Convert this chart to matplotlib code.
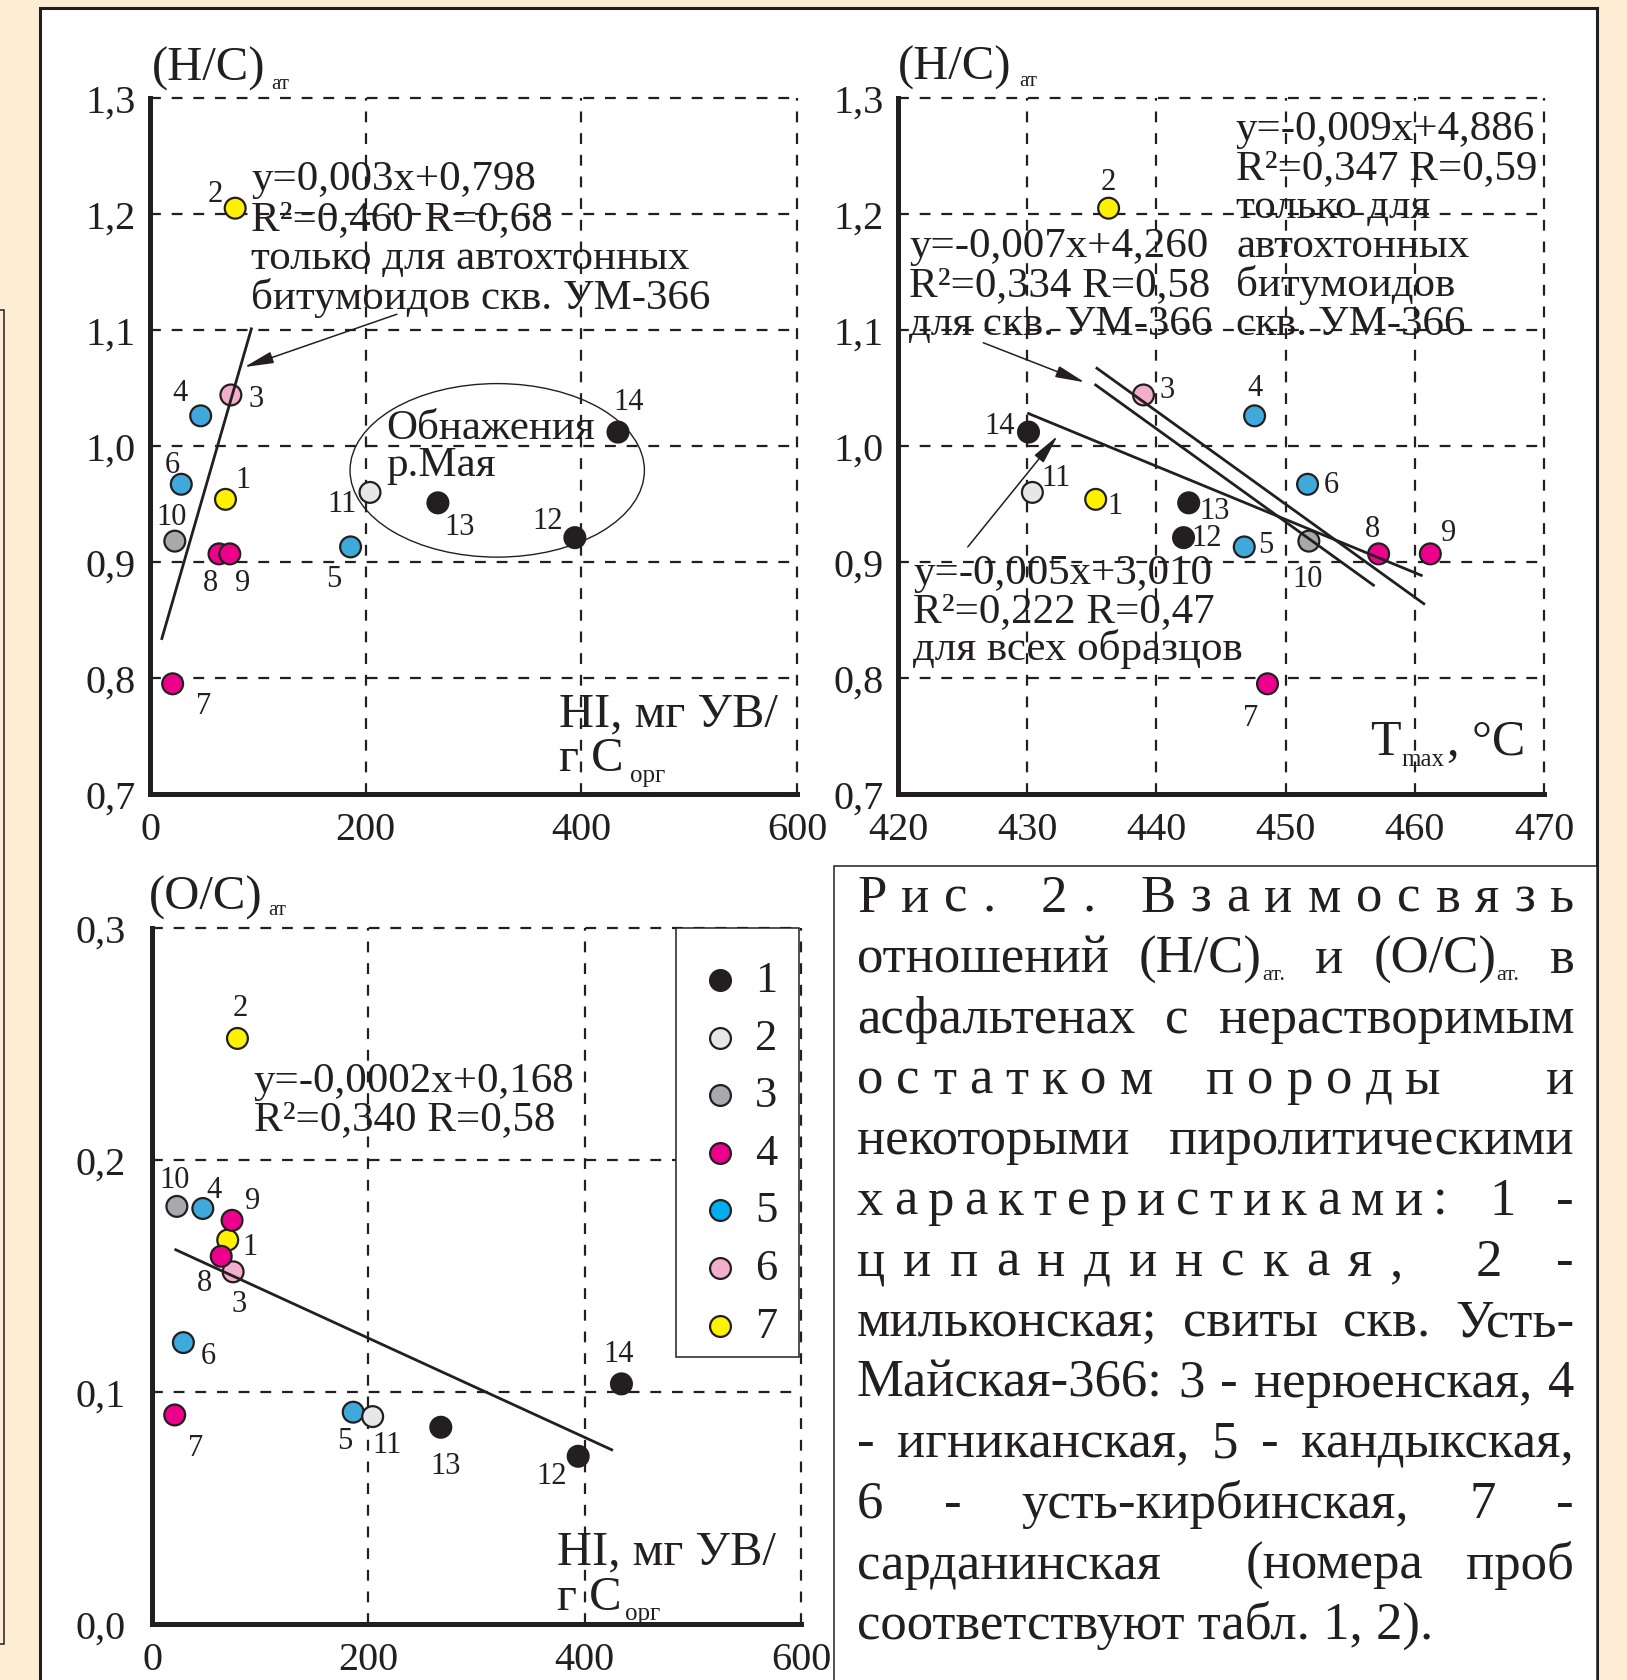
import matplotlib
matplotlib.use('Agg')
import matplotlib.pyplot as plt
from matplotlib.patches import Rectangle, Ellipse

W, H, DPI = 1627, 1681, 100
INK = '#231F20'
BEIGE = '#FEEDD5'
plt.rcParams['font.family'] = ['Liberation Serif', 'DejaVu Serif']
plt.rcParams['lines.scale_dashes'] = False
plt.rcParams['text.color'] = INK

# ---------------- data ----------------
samples = [1, 2, 3, 4, 5, 6, 7, 8, 9, 10, 11, 12, 13, 14]
suite_of_sample = [7, 7, 6, 5, 5, 5, 4, 4, 4, 3, 2, 1, 1, 1]
hi_values = [70, 79, 75, 47, 186, 29, 21, 64, 74, 23, 204, 394, 267, 434]
hc_values = [0.954, 1.205, 1.044, 1.026, 0.913, 0.967, 0.795, 0.907, 0.907,
             0.918, 0.960, 0.921, 0.951, 1.012]
tmax_values = [435.3, 436.3, 439.0, 447.6, 446.8, 451.7, 448.6, 457.2, 461.2,
               451.8, 430.4, 442.1, 442.5, 430.1]
oc_values = [0.1655, 0.2524, 0.1518, 0.1791, 0.0913, 0.1213, 0.0901, 0.1585,
             0.1740, 0.1800, 0.0894, 0.0723, 0.0848, 0.1035]

suite_ids = [1, 2, 3, 4, 5, 6, 7]
suite_colors = ['#231F20', '#E6E7E8', '#A7A9AC', '#EC008C', '#3FA9DC', '#F2AECB', '#FFF200']
legend_colors = ['#231F20', '#E6E7E8', '#A7A9AC', '#EC008C', '#00AEEF', '#F2AECB', '#FFF200']

# regression lines (end points)
fit_hc_hi_x = [11, 94]
fit_hc_hi_y = [0.834, 1.101]
fit_tmax_all_x = [430.1, 460.5]
fit_tmax_all_y = [1.028, 0.8885]
fit_tmax_um_x = [435.3, 456.8]
fit_tmax_um_y = [1.0526, 0.880]
fit_tmax_auto_x = [435.4, 460.7]
fit_tmax_auto_y = [1.067, 0.864]
fit_oc_hi_x = [22, 425]
fit_oc_hi_y = [0.1613, 0.0751]

hc_ticks = [0.7, 0.8, 0.9, 1.0, 1.1, 1.2, 1.3]
hc_tick_labels = ['0,7', '0,8', '0,9', '1,0', '1,1', '1,2', '1,3']
hi_ticks = [0, 200, 400, 600]
hi_tick_labels = ['0', '200', '400', '600']
tmax_ticks = [420, 430, 440, 450, 460, 470]
tmax_tick_labels = ['420', '430', '440', '450', '460', '470']
oc_ticks = [0.0, 0.1, 0.2, 0.3]
oc_tick_labels = ['0,0', '0,1', '0,2', '0,3']

# ---------------- text positions (layout) ----------------
lab1 = {1: (85.9, 0.971), 2: (60.7, 1.218), 3: (98.5, 1.0406), 4: (28.2, 1.0457),
        5: (170.4, 0.886), 6: (20.4, 0.984), 7: (50, 0.776), 8: (55.8, 0.8825),
        9: (85.9, 0.8825), 10: (20.4, 0.939), 11: (178, 0.950), 12: (369, 0.936),
        13: (287, 0.931), 14: (444, 1.038)}
lab2 = {1: (436.8, 0.949), 2: (436.3, 1.228), 3: (440.8, 1.049), 4: (447.6, 1.050),
        5: (448.45, 0.915), 6: (453.5, 0.967), 7: (447.3, 0.766), 8: (456.7, 0.929),
        9: (462.65, 0.9255), 10: (451.7, 0.886), 11: (432.2, 0.973), 12: (443.9, 0.921),
        13: (444.5, 0.944), 14: (427.9, 1.018)}
lab3 = {1: (90.2, 0.1629), 2: (81.3, 0.2658), 3: (80.8, 0.138), 4: (57, 0.1872),
        5: (178, 0.0793), 6: (52.1, 0.1156), 7: (40.7, 0.076), 8: (48.1, 0.1472),
        9: (93.2, 0.1826), 10: (20.8, 0.1918), 11: (217.7, 0.0774), 12: (369.4, 0.064),
        13: (271.7, 0.0682), 14: (431.4, 0.1167)}

fig = plt.figure(figsize=(W / DPI, H / DPI), dpi=DPI, facecolor=BEIGE)


def rect_px(x0, y0, x1, y1, **kw):
    r = Rectangle((x0 / W, 1 - y1 / H), (x1 - x0) / W, (y1 - y0) / H,
                  transform=fig.transFigure, **kw)
    fig.add_artist(r)
    return r


def ftext(x, y, s, size, **kw):
    kw.setdefault('va', 'baseline')
    kw.setdefault('ha', 'left')
    return fig.text(x / W, 1 - y / H, s, fontsize=size, color=INK, **kw)


def make_ax(l, t, r, b):
    ax = fig.add_axes([l / W, 1 - b / H, (r - l) / W, (b - t) / H])
    ax.set_facecolor('none')
    for s in ('top', 'right'):
        ax.spines[s].set_visible(False)
    for s in ('left', 'bottom'):
        ax.spines[s].set_linewidth(3.6)
        ax.spines[s].set_color(INK)
        ax.spines[s].set_capstyle('projecting')
    return ax


# panels
rect_px(40, 9, 1597, 1720, facecolor='white', edgecolor=INK, lw=2.2, zorder=-10)
rect_px(-30, 311, 4, 1645, facecolor='none', edgecolor=INK, lw=1.1, zorder=-9)
rect_px(834, 867, 1597, 1720, facecolor='white', edgecolor=INK, lw=1.1, zorder=-8)

DASH = (0, (7.8, 7.8))
GRID_KW = dict(color=INK, lw=1.6, ls=DASH, zorder=1, clip_on=False)
MARK_S = 15.0 ** 2
ANN = 31


def setup(ax, xlim, ylim, xt, xtl, yt, ytl, hgrid, vgrid, ypad):
    ax.set_xlim(*xlim)
    ax.set_ylim(*ylim)
    ax.set_xticks(xt)
    ax.set_xticklabels(xtl)
    ax.set_yticks(yt)
    ax.set_yticklabels(ytl)
    ax.tick_params(axis='both', length=0, labelsize=29, colors=INK)
    ax.tick_params(axis='x', pad=12)
    ax.tick_params(axis='y', pad=ypad)
    for y in hgrid:
        ax.axhline(y, **GRID_KW)
    for x in vgrid:
        ax.axvline(x, **GRID_KW)


def points(ax, xs, ys, labpos):
    cols = [suite_colors[suite_ids.index(s)] for s in suite_of_sample]
    ax.scatter(xs, ys, s=MARK_S, c=cols, edgecolors=INK, linewidths=1.6,
               zorder=4, clip_on=False)
    for n in samples:
        x, y = labpos[n]
        ax.text(x, y, str(n), fontsize=22, ha='center', va='center', color=INK, zorder=6)


ARROW = dict(arrowstyle='-|>,head_length=0.9,head_width=0.18', color=INK, lw=1.1,
             shrinkA=0, shrinkB=0, mutation_scale=20)

# ---------------- plot 1: HI vs H/C ----------------
ax1 = make_ax(150, 99, 797, 795)
setup(ax1, (0, 600), (0.7, 1.3), hi_ticks, hi_tick_labels, hc_ticks, hc_tick_labels,
      hc_ticks[1:], hi_ticks[1:], 10.5)
points(ax1, hi_values, hc_values, lab1)
ax1.plot(fit_hc_hi_x, fit_hc_hi_y, color=INK, lw=2.0, zorder=5)
ax1.annotate('', xy=(87.4, 1.068), xytext=(229, 1.1136), arrowprops=ARROW, zorder=5)
ax1.add_patch(Ellipse((322, 0.979), 273, 0.1496, fill=False, edgecolor=INK, lw=1.0, zorder=3))

for i, s in enumerate(['y=0,003x+0,798', 'R²=0,460 R=0,68',
                       'только для автохтонных', 'битумоидов скв. УМ-366']):
    ftext(251, 190 + 39.7 * i, s, ANN)
ftext(386, 439, 'Обнажения', ANN)
ftext(386, 476, 'р.Мая', ANN)
ftext(152, 81, '(H/C)', 35)
ftext(271, 89, 'ат', 15)
ftext(559, 726, 'HI, мг УВ/', 35)
ftext(559, 771, 'г С', 35)
ftext(630, 782, 'орг', 18)

# ---------------- plot 2: Tmax vs H/C ----------------
ax2 = make_ax(898, 99, 1544, 795)
setup(ax2, (420, 470), (0.7, 1.3), tmax_ticks, tmax_tick_labels, hc_ticks, hc_tick_labels,
      hc_ticks[1:], tmax_ticks[1:], 10.5)
points(ax2, tmax_values, hc_values, lab2)
ax2.plot(fit_tmax_all_x, fit_tmax_all_y, color=INK, lw=2.0, zorder=5)
ax2.plot(fit_tmax_um_x, fit_tmax_um_y, color=INK, lw=2.0, zorder=5)
ax2.plot(fit_tmax_auto_x, fit_tmax_auto_y, color=INK, lw=2.0, zorder=5)
ax2.annotate('', xy=(434.45, 1.0549), xytext=(426.6, 1.089), arrowprops=ARROW, zorder=5)
ax2.annotate('', xy=(432.35, 1.0087), xytext=(425.4, 0.913), arrowprops=ARROW, zorder=5)

for i, s in enumerate(['y=-0,009x+4,886', 'R²=0,347 R=0,59', 'только для',
                       'автохтонных', 'битумоидов', 'скв. УМ-366']):
    ftext(1236, 140 + 39 * i, s, ANN)
for i, s in enumerate(['y=-0,007x+4,260', 'R²=0,334 R=0,58', 'для скв. УМ-366']):
    ftext(909, 257 + 39 * i, s, ANN)
for i, s in enumerate(['y=-0,005x+3,010', 'R²=0,222 R=0,47', 'для всех образцов']):
    ftext(913, 584 + 38 * i, s, ANN)
ftext(898, 80, '(H/C)', 35)
ftext(1019, 86, 'ат', 15)
ftext(1370, 755, 'T', 36)
ftext(1401, 766, 'max', 18)
ftext(1447, 755, ', °C', 36)

# ---------------- plot 3: HI vs O/C ----------------
ax3 = make_ax(152, 929, 801, 1625)
setup(ax3, (0, 600), (0.0, 0.3), hi_ticks, hi_tick_labels, oc_ticks, oc_tick_labels,
      oc_ticks[1:], hi_ticks[1:], 19)
points(ax3, hi_values, oc_values, lab3)
ax3.plot(fit_oc_hi_x, fit_oc_hi_y, color=INK, lw=2.0, zorder=5)
ftext(254, 1092, 'y=-0,0002x+0,168', ANN)
ftext(254, 1130, 'R²=0,340 R=0,58', ANN)
ftext(149, 910, '(O/C)', 35)
ftext(268, 915, 'ат', 15)
ftext(557, 1564, 'HI, мг УВ/', 35)
ftext(557, 1610, 'г С', 35)
ftext(625, 1620, 'орг', 18)

# legend box
ax3.add_patch(Rectangle((0.8074, 0.384), 0.1896, 0.616, transform=ax3.transAxes,
                        facecolor='white', edgecolor=INK, lw=1.1, zorder=3, clip_on=False))
for k, (sid, col) in enumerate(zip(suite_ids, legend_colors)):
    ypx = 981 + 57.6 * k
    yf = (1625 - ypx) / 696
    ax3.scatter([0.875], [yf], s=MARK_S, c=[col], edgecolors=INK, linewidths=1.6,
                transform=ax3.transAxes, zorder=6, clip_on=False)
    ax3.text(0.946, yf, str(sid), transform=ax3.transAxes, fontsize=32,
             ha='center', va='center', color=INK, zorder=6)

# ---------------- caption ----------------
renderer = fig.canvas.get_renderer()
CAP_SIZE = 38
CAP_X0, CAP_X1 = 857, 1574
caption_lines = [
    ('Р и с .   2 .   В з а и м о с в я з ь', True),
    ('отношений (Н/С)_ат. и (О/С)_ат. в', True),
    ('асфальтенах с нерастворимым', True),
    ('о с т а т к о м    п о р о д ы        и', True),
    ('некоторыми пиролитическими', True),
    ('х а р а к т е р и с т и к а м и :    1    -', True),
    ('ц и п а н д и н с к а я ,    2   -', True),
    ('мильконская; свиты скв. Усть-', True),
    ('Майская-366: 3 - нерюенская, 4', True),
    ('- игниканская, 5 - кандыкская,', True),
    ('6 - усть-кирбинская, 7 -', True),
    ('сарданинская  (номера проб', True),
    ('соответствуют табл. 1, 2).', False),
]


def place_line(line, y, justify):
    if not justify:
        ftext(CAP_X0, y, line, CAP_SIZE)
        return
    toks = line.split(' ')
    items = []
    total = 0
    for tok in toks:
        if tok == '':
            items.append(None)
            continue
        main, _, sub = tok.partition('_')
        t = ftext(0, 0, main, CAP_SIZE)
        w = t.get_window_extent(renderer).width
        ts, ws = None, 0
        if sub:
            ts = ftext(0, 0, sub, 16)
            ws = ts.get_window_extent(renderer).width
        items.append((t, w, ts, ws))
        total += w + ws
    gap = (CAP_X1 - CAP_X0 - total) / (len(toks) - 1)
    x = CAP_X0
    for it in items:
        if it is not None:
            t, w, ts, ws = it
            t.set_position((x / W, 1 - y / H))
            if ts is not None:
                ts.set_position(((x + w) / W, 1 - (y + 7) / H))
            x += w + ws
        x += gap


for i, (line, just) in enumerate(caption_lines):
    place_line(line, 912 + 60.6 * i, just)

fig.savefig('out.png', dpi=DPI, facecolor=BEIGE)
